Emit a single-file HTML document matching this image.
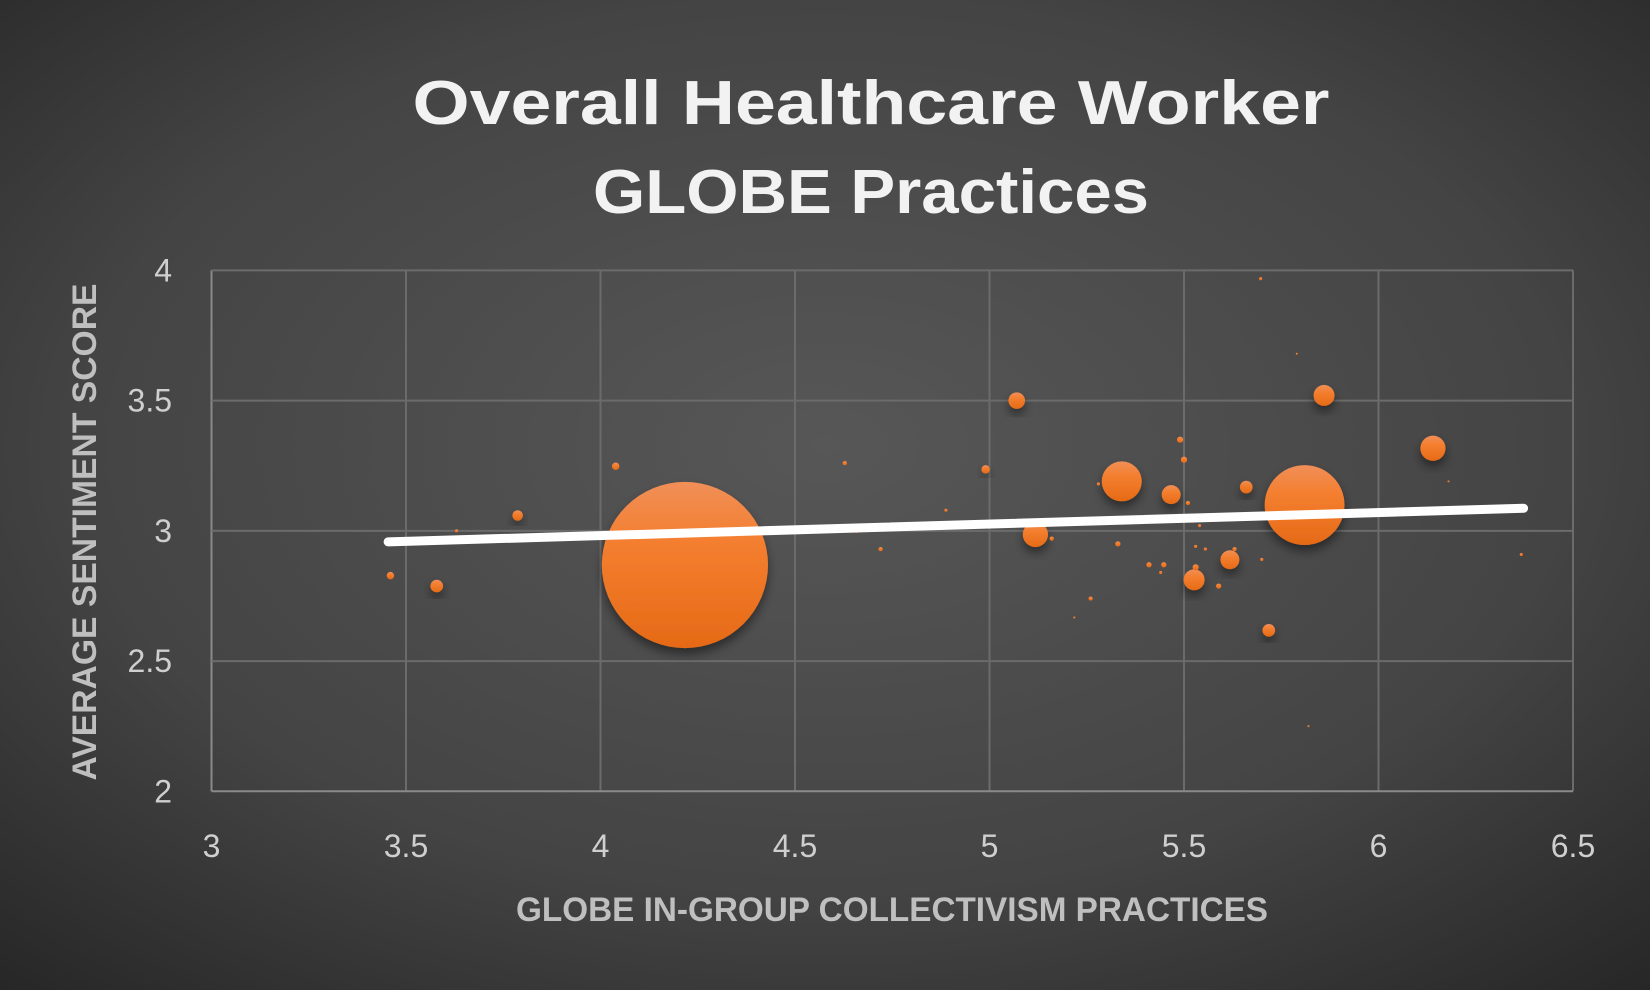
<!DOCTYPE html>
<html><head><meta charset="utf-8"><style>
html,body{margin:0;padding:0;width:1650px;height:990px;overflow:hidden;background:#333;}
svg{display:block;}
</style></head><body>
<svg id="chart" width="1650" height="990" viewBox="0 0 1650 990" xmlns="http://www.w3.org/2000/svg">
<defs>
<radialGradient id="bg" cx="0.5" cy="0.45" r="0.75">
<stop offset="0" stop-color="#575757"/><stop offset="0.6" stop-color="#444"/><stop offset="1" stop-color="#262626"/>
</radialGradient>
<linearGradient id="bub" x1="0" y1="0" x2="0" y2="1">
<stop offset="0" stop-color="#f08f58"/><stop offset="0.35" stop-color="#f47f30"/><stop offset="1" stop-color="#e66a16"/>
</linearGradient>
<filter id="sh" x="-50%" y="-50%" width="200%" height="200%"><feDropShadow dx="0" dy="6" stdDeviation="5" flood-color="#000" flood-opacity="0.45"/></filter>
</defs>
<rect width="1650" height="990" fill="url(#bg)"/>
<g font-family="'Liberation Sans', sans-serif">
<text x="871" y="124" text-anchor="middle" fill="#f2f2f2" font-size="62" font-weight="bold" textLength="917" lengthAdjust="spacingAndGlyphs">Overall Healthcare Worker</text>
<text x="871" y="213" text-anchor="middle" fill="#f2f2f2" font-size="62" font-weight="bold" textLength="556" lengthAdjust="spacingAndGlyphs">GLOBE Practices</text>
<text x="892" y="921" text-anchor="middle" fill="#bfbfbf" font-size="34" font-weight="bold" textLength="752" lengthAdjust="spacingAndGlyphs">GLOBE IN-GROUP COLLECTIVISM PRACTICES</text>
<text transform="translate(96,532) rotate(-90)" text-anchor="middle" fill="#bfbfbf" font-size="34" font-weight="bold" textLength="497" lengthAdjust="spacingAndGlyphs">AVERAGE SENTIMENT SCORE</text>
</g>
<g id="grid"></g><g id="ticks" font-family="'Liberation Sans', sans-serif"></g>
<g id="marks"></g>
</svg>
<script>
const xTicks=[3,3.5,4,4.5,5,5.5,6,6.5];
const yTicks=[2,2.5,3,3.5,4];
const xVals=[4.217,5.81,5.34,5.86,6.14,5.07,5.118,5.467,5.618,5.526,5.718,5.66,3.579,3.787,3.46,4.039,4.99,5.50,5.49,4.628,4.72,4.888,4.658,3.63,5.697,5.79,5.33,5.41,5.448,5.44,5.53,5.589,5.26,5.218,5.54,5.53,5.555,5.63,5.70,5.51,6.18,6.367,5.82,5.16,5.28];
const yVals=[2.869,3.099,3.19,3.52,3.317,3.50,2.986,3.139,2.889,2.812,2.618,3.168,2.788,3.059,2.828,3.248,3.236,3.273,3.35,3.26,2.93,3.079,3.0,3.0,3.968,3.68,2.95,2.87,2.87,2.84,2.86,2.788,2.74,2.667,3.02,2.94,2.93,2.93,2.89,3.107,3.19,2.909,2.25,2.97,3.18];
const sizes=[1000,231,58,16,23,10,23,13,13,16,5.8,5.8,5.8,4,2,2,2.6,1.4,1.4,0.64,0.64,0.36,0.64,0.36,0.36,0.16,1,1,1,0.36,1.4,1,0.64,0.16,0.36,0.36,0.36,0.64,0.36,0.64,0.16,0.36,0.16,0.64,0.36];
const trendX=[3.454,6.373];
const trendSlope=0.0442, trendIntercept=2.805;

const L=211.5,R=1573,T=270.4,B=791.3;
const xs=v=>L+(v-3)/(6.5-3)*(R-L);
const ys=v=>B-(v-2)/(4-2)*(B-T);
const rs=s=>83.1*Math.sqrt(s/1000);
const NS='http://www.w3.org/2000/svg';
function mk(tag,attrs,parent){const e=document.createElementNS(NS,tag);for(const k in attrs)e.setAttribute(k,attrs[k]);parent.appendChild(e);return e;}
const grid=document.getElementById('grid'),ticks=document.getElementById('ticks'),marks=document.getElementById('marks');
xTicks.forEach(t=>{
  const ln=mk('line',{x1:xs(t),x2:xs(t),y1:T,y2:B,stroke:t===3?'#8a8a8a':'#6b6b6b','stroke-width':2},grid);
  
  
  const tx=mk('text',{x:xs(t),y:857,'text-anchor':'middle',fill:'#cfcfcf','font-size':32},ticks);
  tx.textContent=t;
  
  
});
yTicks.forEach(t=>{
  const ln=mk('line',{x1:L,x2:R,y1:ys(t),y2:ys(t),stroke:t===2?'#8a8a8a':'#6b6b6b','stroke-width':2},grid);
  
  
  const tx=mk('text',{x:172,y:ys(t)+11,'text-anchor':'end',fill:'#cfcfcf','font-size':32},ticks);
  tx.textContent=t;
  
  
});
xVals.forEach((x,i)=>{
  const r=rs(sizes[i]);
  const c=mk('circle',{cx:xs(x),cy:ys(yVals[i]),r:r,fill:'url(#bub)'},marks);
  if(r>4)c.setAttribute('filter','url(#sh)');
  
  
});
const tl=mk('line',{x1:xs(trendX[0]),y1:ys(trendSlope*trendX[0]+trendIntercept),x2:xs(trendX[1]),y2:ys(trendSlope*trendX[1]+trendIntercept),stroke:'#fff','stroke-width':9,'stroke-linecap':'round'},marks);


</script>
</body></html>
